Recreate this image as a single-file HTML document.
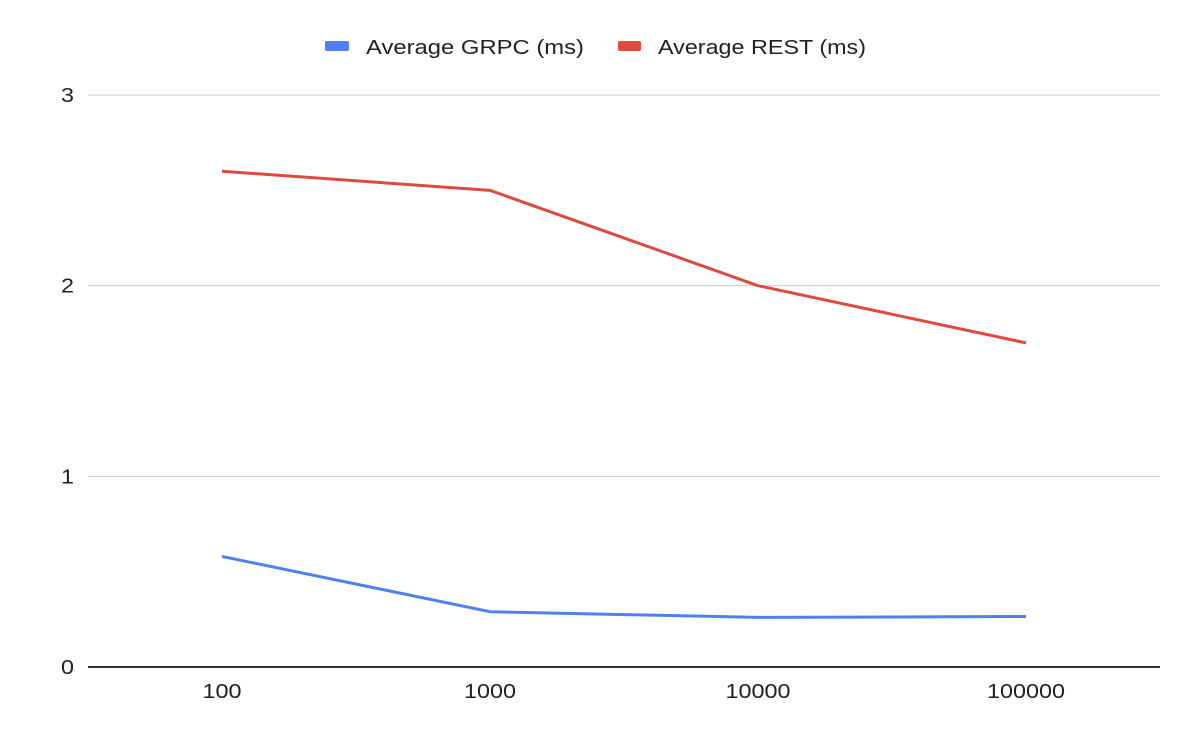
<!DOCTYPE html>
<html><head><meta charset="utf-8"><style>
body{margin:0;background:#fff;}
svg text{font-family:"Liberation Sans",Arial,sans-serif;fill:#222;}
</style></head><body>
<svg id="chart" width="1190" height="734" xmlns="http://www.w3.org/2000/svg">
<g>
<g><rect x="325" y="41" width="24" height="10" rx="2" fill="#4f81ee"/><text x="366" y="54" font-size="20" textLength="218" lengthAdjust="spacingAndGlyphs">Average GRPC (ms)</text></g>
<g><rect x="618" y="41" width="23" height="10" rx="2" fill="#dc4b3e"/><text x="658" y="54" font-size="20" textLength="208" lengthAdjust="spacingAndGlyphs">Average REST (ms)</text></g>
</g>
<g id="grid"></g>
<g id="ylabels"></g>
<g id="xlabels"></g>
<g id="series"></g>
</svg>
<script>
const categories=["100","1000","10000","100000"];
const grpc=[0.58,0.29,0.26,0.265];
const rest=[2.6,2.5,2.0,1.7];
const yTicks=[0,1,2,3];
const X0=88,X1=1160,Y0=667,Y1=95,YMAX=3;
const ns="http://www.w3.org/2000/svg";
const band=(X1-X0)/categories.length;
const xs=i=>X0+(i+0.5)*band;
const ys=v=>Y0-(v/YMAX)*(Y0-Y1);
function mk(t,a,p){const e=document.createElementNS(ns,t);for(const k in a)e.setAttribute(k,a[k]);p.appendChild(e);return e;}
const grid=document.getElementById('grid'),yl=document.getElementById('ylabels'),xl=document.getElementById('xlabels'),se=document.getElementById('series');
yTicks.forEach(t=>{
 const l=mk('line',{x1:X0,x2:X1,y1:ys(t),y2:ys(t),stroke:t===0?'#333':'#ccc','stroke-width':t===0?2:1},grid);
 
 
 const tx=mk('text',{x:74,y:ys(t)+7,'font-size':20,'text-anchor':'end',textLength:13,lengthAdjust:'spacingAndGlyphs'},yl);tx.textContent=t;
 
 
});
categories.forEach((c,i)=>{
 const tx=mk('text',{x:xs(i),y:698,'font-size':20,'text-anchor':'middle',textLength:c.length*13,lengthAdjust:'spacingAndGlyphs'},xl);tx.textContent=c;
 
 
});
[[grpc,'#4f81ee','grpc-line'],[rest,'#dc4b3e','rest-line']].forEach(([d,c,n])=>{
 const p=mk('polyline',{points:d.map((v,i)=>xs(i)+','+ys(v)).join(' '),fill:'none',stroke:c,'stroke-width':3,'stroke-linejoin':'round'},se);
 
 
});
</script>
</body></html>
